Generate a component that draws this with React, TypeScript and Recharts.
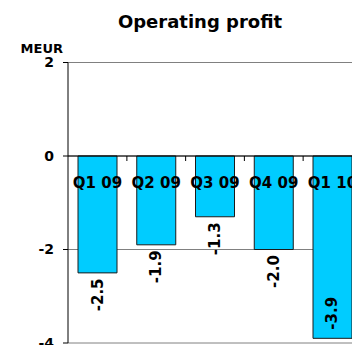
import { BarChart, Bar, XAxis, YAxis, CartesianGrid, ReferenceLine, LabelList } from "recharts";

const quarters = ["Q1 09", "Q2 09", "Q3 09", "Q4 09", "Q1 10"];
const profit = [-2.5, -1.9, -1.3, -2.0, -3.9];
const yTicks = [2, 0, -2, -4];

const Y_MIN = -4;
const Y_MAX = 2;
const FONT = "'DejaVu Sans', Verdana, sans-serif";
const CYAN = "#00ccff";

const CHART_W = 400;
const CHART_H = 380;
const MARGIN = { top: 62.5, right: 38.25, bottom: 37, left: 0 };
const Y_AXIS_W = 68;
// width of one category band on the x axis
const BAND = (CHART_W - MARGIN.left - MARGIN.right - Y_AXIS_W) / quarters.length;

const data = quarters.map((quarter, i) => ({ quarter, profit: profit[i] }));

function ValueLabel(props: any) {
  const { x, y, width, height, value } = props;
  const cx = x + width / 2;
  const end = Math.max(y, y + height);
  // no room below the bar end -> put the label inside the bar
  const inside = value - Y_MIN < 0.9;
  const cy = inside ? end - 25 : end + 22;
  return (
    <text
      x={cx}
      y={cy}
      transform={`rotate(-90 ${cx} ${cy})`}
      textAnchor="middle"
      dominantBaseline="central"
      fontFamily={FONT}
      fontWeight="bold"
      fontSize={15}
      fill="#000"
    >
      {Number(value).toFixed(1)}
    </text>
  );
}

// quarter name just under the zero line, plus the small tick at the band's right edge
function QuarterLabel(props: any) {
  const { x, y, width, height, value } = props;
  const top = Math.min(y, y + height);
  const edge = x + width / 2 + BAND / 2;
  return (
    <g>
      <line x1={edge} x2={edge} y1={top} y2={top + 5} stroke="#000" strokeWidth={1} />
      <text
        x={x + width / 2}
        y={top + 32}
        textAnchor="middle"
        fontFamily={FONT}
        fontWeight="bold"
        fontSize={15}
        fill="#000"
      >
        {value}
      </text>
    </g>
  );
}

export default function App() {
  return (
    <div
      style={{
        position: "absolute",
        left: 0,
        top: 0,
        width: 352,
        height: 345,
        overflow: "hidden",
        background: "#fff",
      }}
    >
      <BarChart width={CHART_W} height={CHART_H} data={data} margin={MARGIN}>
        <CartesianGrid vertical={false} stroke="#808080" />
        <XAxis dataKey="quarter" type="category" hide />
        <YAxis
          type="number"
          domain={[Y_MIN, Y_MAX]}
          ticks={yTicks}
          interval={0}
          width={Y_AXIS_W}
          tickSize={5}
          tickMargin={9}
          axisLine={{ stroke: "#000" }}
          tickLine={{ stroke: "#000" }}
          tick={{ fontFamily: FONT, fontWeight: "bold", fontSize: 14, fill: "#000" }}
        />
        <Bar
          dataKey="profit"
          barSize={39}
          fill={CYAN}
          stroke="#1a1a1a"
          strokeWidth={1}
          isAnimationActive={false}
        >
          <LabelList dataKey="profit" content={<ValueLabel />} />
          <LabelList dataKey="quarter" content={<QuarterLabel />} />
        </Bar>
        <ReferenceLine y={0} stroke="#000" strokeWidth={1} />
      </BarChart>
      <svg
        width={352}
        height={345}
        style={{ position: "absolute", left: 0, top: 0, pointerEvents: "none" }}
      >
        <text
          x={200}
          y={28}
          textAnchor="middle"
          fontFamily={FONT}
          fontWeight="bold"
          fontSize={18}
          fill="#000"
        >
          Operating profit
        </text>
        <text
          x={63}
          y={52.7}
          textAnchor="end"
          fontFamily={FONT}
          fontWeight="bold"
          fontSize={13}
          fill="#000"
        >
          MEUR
        </text>
      </svg>
    </div>
  );
}
